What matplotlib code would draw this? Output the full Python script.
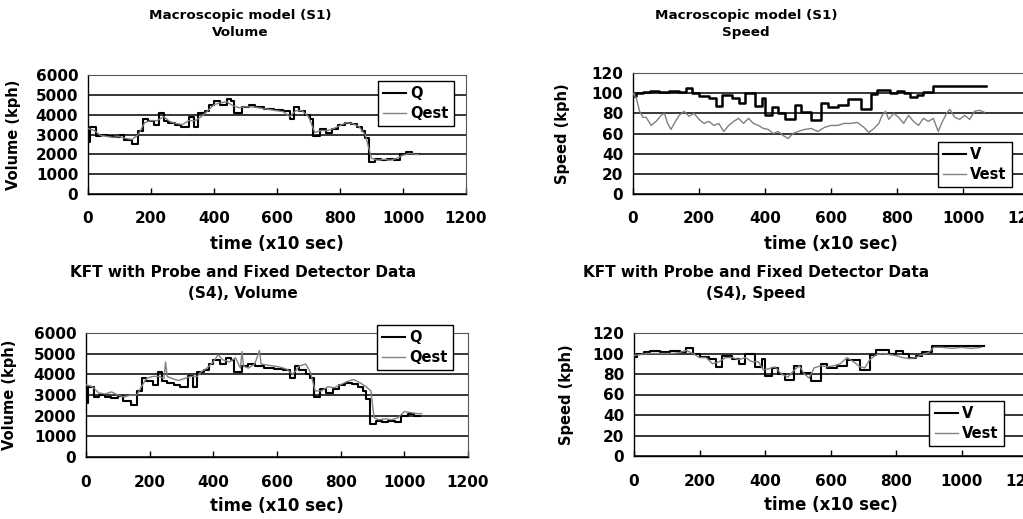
import matplotlib
matplotlib.use("Agg")
import matplotlib.pyplot as plt
from matplotlib.lines import Line2D

plt.rcParams['font.family'] = ['DejaVu Sans']
plt.rcParams['font.weight'] = 'bold'

# measured volume Q (step values, post)
q_t = [0, 5, 25, 40, 60, 80, 100, 115, 140, 160, 175, 190, 210, 225, 240, 255, 275, 295,
       320, 335, 350, 370, 385, 400, 420, 440, 455, 465, 490, 510, 530, 560, 590, 620,
       640, 655, 670, 690, 705, 715, 735, 755, 775, 795, 815, 835, 855, 870, 880, 892,
       910, 930, 950, 970, 990, 1010, 1030, 1050]
q_v = [2600, 3400, 2900, 3000, 2900, 2850, 2950, 2700, 2500, 3200, 3800, 3700, 3500, 4100,
       3700, 3600, 3500, 3400, 3900, 3400, 4100, 4200, 4500, 4700, 4500, 4800, 4700, 4100,
       4400, 4500, 4400, 4300, 4250, 4200, 3800, 4400, 4200, 4000, 3800, 2900, 3300, 3100,
       3300, 3500, 3600, 3550, 3400, 3200, 2800, 1600, 1750, 1700, 1750, 1700, 2000, 2100,
       2000, 2000]

# estimated volume, S1
qe1_t = [0, 20, 40, 60, 80, 100, 120, 140, 160, 180, 200, 220, 240, 260, 280, 300, 320,
         340, 360, 380, 400, 420, 440, 460, 480, 500, 520, 540, 560, 580, 600, 620, 640,
         660, 680, 700, 720, 740, 760, 780, 800, 820, 840, 860, 880, 900, 920, 940, 960,
         980, 1000, 1020, 1040, 1050]
qe1_v = [3300, 3200, 2950, 2900, 2850, 2900, 2800, 2750, 3000, 3600, 3700, 3700, 3900,
         3650, 3550, 3500, 3700, 3700, 3900, 4200, 4500, 4600, 4650, 4450, 4350, 4400,
         4400, 4350, 4300, 4250, 4200, 4150, 3900, 4200, 4200, 3900, 3100, 3200, 3200,
         3300, 3450, 3600, 3550, 3400, 3000, 1800, 1700, 1750, 1700, 1800, 1950, 2050,
         2000, 2000]

# estimated volume, S4
qe4_t = [0, 20, 40, 60, 80, 100, 120, 140, 160, 170, 190, 210, 230, 245, 250, 255, 270,
         290, 310, 330, 350, 360, 380, 400, 415, 430, 450, 470, 485, 490, 495, 510, 530,
         545, 550, 570, 590, 610, 630, 650, 670, 690, 705, 720, 740, 760, 780, 800, 820,
         840, 860, 880, 895, 905, 920, 940, 960, 980, 1000, 1020, 1040, 1055]
qe4_v = [3500, 3400, 3100, 3050, 3150, 3000, 2900, 3000, 3000, 3300, 3800, 3900, 3900,
         3800, 4600, 3900, 3800, 3700, 3800, 3900, 3900, 4100, 4300, 4600, 4950, 4700,
         4600, 4800, 4300, 5100, 4400, 4300, 4500, 5150, 4500, 4450, 4400, 4350, 4250,
         4000, 4400, 4500, 4100, 3200, 3200, 3400, 3350, 3500, 3650, 3750, 3600, 3400,
         3200, 1900, 1800, 1850, 1800, 1900, 2200, 2150, 2100, 2100]

# measured speed V (step values, post)
v_t = [0, 10, 30, 50, 80, 110, 140, 160, 180, 200, 230, 250, 270, 300, 320, 340, 370, 390,
       400, 420, 440, 460, 490, 510, 540, 570, 590, 620, 650, 690, 720, 740, 780, 800,
       820, 840, 860, 880, 910, 1070]
v_v = [97, 100, 101, 102, 101, 102, 101, 105, 100, 97, 95, 87, 98, 95, 90, 100, 87, 95,
       78, 86, 80, 74, 88, 81, 73, 90, 86, 88, 94, 84, 99, 103, 100, 102, 100, 96, 98,
       101, 107, 107]

# estimated speed, S1
ve1_t = [0, 10, 20, 30, 40, 55, 70, 85, 95, 105, 115, 125, 140, 155, 170, 185, 200, 215,
         230, 245, 260, 275, 290, 305, 320, 335, 350, 365, 380, 395, 410, 425, 440, 455,
         470, 485, 500, 520, 540, 560, 580, 600, 620, 640, 660, 680, 700, 715, 730, 745,
         755, 765, 775, 790, 805, 820, 835, 850, 865, 880, 895, 910, 925, 935, 950, 960,
         975, 990, 1005, 1020, 1035, 1050, 1065]
ve1_v = [100, 95, 82, 76, 76, 68, 72, 78, 80, 70, 64, 70, 78, 82, 77, 80, 74, 70, 72, 68,
         70, 62, 68, 72, 75, 70, 75, 70, 68, 65, 64, 60, 62, 58, 55, 60, 62, 64, 65, 62,
         66, 68, 68, 70, 70, 71, 66, 61, 65, 70, 78, 82, 74, 80, 76, 70, 78, 72, 68, 75,
         72, 75, 62, 70, 80, 84, 76, 74, 78, 74, 82, 83, 81]

# estimated speed, S4
ve4_t = [0, 20, 40, 60, 80, 100, 120, 140, 160, 180, 200, 220, 240, 260, 280, 300, 320,
         340, 360, 380, 395, 410, 430, 450, 470, 490, 505, 520, 535, 550, 570, 590, 610,
         630, 650, 670, 690, 705, 720, 740, 760, 780, 800, 820, 840, 860, 880, 900, 915,
         940, 970, 1000, 1030, 1060]
ve4_v = [98, 99, 100, 100, 100, 100, 100, 101, 103, 100, 96, 96, 90, 92, 96, 96, 94, 96,
         92, 92, 84, 85, 87, 80, 77, 84, 88, 80, 76, 86, 88, 87, 88, 90, 96, 92, 87, 86,
         94, 99, 100, 99, 98, 96, 95, 96, 99, 101, 106, 106, 105, 106, 105, 106]

W, H = 1023, 519
fig = plt.figure(figsize=(W / 100, H / 100), dpi=100)


def px_axes(x0, x1, ytop, ybot):
    return fig.add_axes([x0 / W, 1 - ybot / H, (x1 - x0) / W, (ybot - ytop) / H])


def style(ax, ymax, ystep, ylabel, xpad, lpad):
    ax.set_xlim(0, 1200)
    ax.set_ylim(0, ymax)
    ax.set_xticks(range(0, 1201, 200))
    ax.set_yticks(range(0, ymax + 1, ystep))
    ax.tick_params(axis='x', direction='in', length=4, width=1, pad=xpad, labelsize=11)
    ax.tick_params(axis='y', length=0, pad=7, labelsize=11)
    ax.yaxis.grid(True, color='black', lw=1.1, zorder=0)
    ax.set_axisbelow(True)
    for s in ['top', 'right']:
        ax.spines[s].set_linestyle((0, (2, 1)))
        ax.spines[s].set_color('#555555')
        ax.spines[s].set_linewidth(0.8)
    for s in ['left', 'bottom']:
        ax.spines[s].set_color('black')
        ax.spines[s].set_linewidth(1.0)
    ax.set_xlabel('time (x10 sec)', fontsize=12, fontweight='bold', labelpad=lpad)
    ax.set_ylabel(ylabel, fontsize=10.5, fontweight='bold')


def add_legend(ax, names, loc, anchor):
    handles = [Line2D([], [], color='black', lw=1.5),
               Line2D([], [], color='#808080', lw=1.0)]
    leg = ax.legend(handles, names, loc=loc, bbox_to_anchor=anchor, fontsize=10.5,
                    frameon=True, fancybox=False, edgecolor='black', framealpha=1,
                    handlelength=1.6, handletextpad=0.3, borderpad=0.35,
                    labelspacing=0.35, borderaxespad=0)
    leg.get_frame().set_linewidth(1.0)
    for t in leg.get_texts():
        t.set_fontweight('bold')


# top-left: volume S1
ax1 = px_axes(88, 466, 75, 194)
ax1.step(q_t, q_v, where='post', color='black', lw=1.5, zorder=3)
ax1.plot(qe1_t, qe1_v, color='#808080', lw=1.0, zorder=4)
style(ax1, 6000, 1000, 'Volume (kph)', 12, 7)
ax1.yaxis.set_label_coords(-0.178, 0.5)
add_legend(ax1, ['Q', 'Qest'], 'upper right', (0.968, 0.95))

# top-right: speed S1
ax2 = px_axes(633, 1029, 73, 194)
ax2.step(v_t, v_v, where='post', color='black', lw=1.8, zorder=3)
ax2.plot(ve1_t, ve1_v, color='#808080', lw=1.0, zorder=4)
style(ax2, 120, 20, 'Speed (kph)', 12, 7)
ax2.yaxis.set_label_coords(-0.159, 0.5)
add_legend(ax2, ['V', 'Vest'], 'lower right', (0.957, 0.058))

# bottom-left: volume S4
ax3 = px_axes(86, 468, 333, 457)
ax3.step(q_t, q_v, where='post', color='black', lw=1.5, zorder=3)
ax3.plot(qe4_t, qe4_v, color='#808080', lw=1.0, zorder=4)
style(ax3, 6000, 1000, 'Volume (kph)', 13, 5)
ax3.yaxis.set_label_coords(-0.18, 0.5)
add_legend(ax3, ['Q', 'Qest'], 'upper right', (0.961, 1.065))

# bottom-right: speed S4
ax4 = px_axes(634, 1027, 333, 456)
ax4.step(v_t, v_v, where='post', color='black', lw=1.5, zorder=3)
ax4.plot(ve4_t, ve4_v, color='#808080', lw=1.0, zorder=4)
style(ax4, 120, 20, 'Speed (kph)', 13, 5)
ax4.yaxis.set_label_coords(-0.153, 0.5)
add_legend(ax4, ['V', 'Vest'], 'lower right', (0.941, 0.081))

# titles
top_kw = dict(ha='center', va='center', fontsize=9.7, fontweight='bold', linespacing=1.35)
bot_kw = dict(ha='center', va='center', fontsize=11, fontweight='bold', linespacing=1.45)
fig.text(240 / W, 1 - 24 / H, 'Macroscopic model (S1)\nVolume', **top_kw)
fig.text(746 / W, 1 - 24 / H, 'Macroscopic model (S1)\nSpeed', **top_kw)
fig.text(243 / W, 1 - 283 / H, 'KFT with Probe and Fixed Detector Data\n(S4), Volume', **bot_kw)
fig.text(756 / W, 1 - 283 / H, 'KFT with Probe and Fixed Detector Data\n(S4), Speed', **bot_kw)

fig.savefig('out.png', dpi=100)
